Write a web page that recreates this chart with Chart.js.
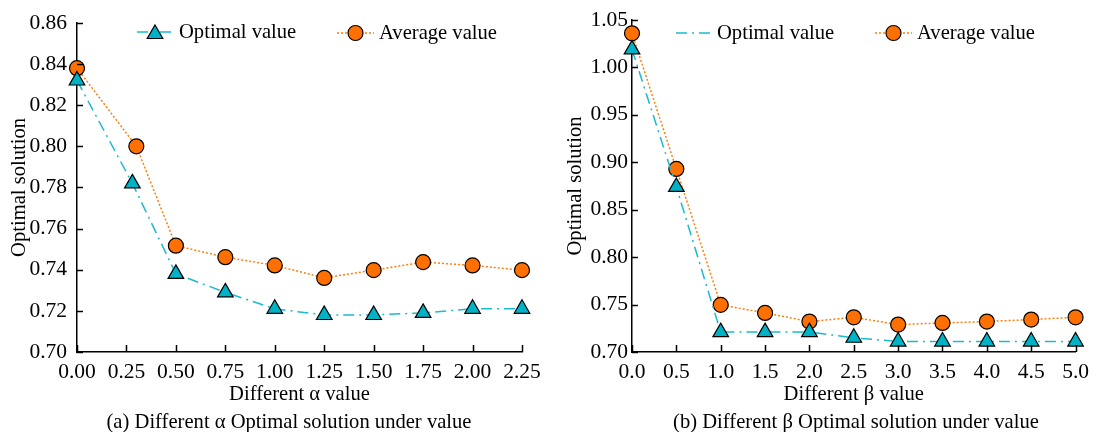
<!DOCTYPE html>
<html><head><meta charset="utf-8">
<script src="https://cdn.jsdelivr.net/npm/chart.js@4"></script>
<style>
html,body{margin:0;padding:0;background:#fff;}
.box{position:absolute;top:0;width:548px;height:432px;}
#b1{left:0}#b2{left:548px}
.cap{position:absolute;top:408px;height:26px;line-height:26px;text-align:center;white-space:nowrap;
     font-family:"Liberation Serif";font-size:20.6px;color:#000;}
#cap1{left:0;width:578px;}
#cap2{left:586px;width:540px;}
</style></head><body>
<div class="box" id="b1"><canvas id="c1" width="548" height="432"></canvas></div>
<div class="box" id="b2"><canvas id="c2" width="548" height="432"></canvas></div>
<div class="cap" id="cap1"></div>
<div class="cap" id="cap2"></div>
<script>
// ---- data ----
const alphaTicks = [0, 0.25, 0.5, 0.75, 1.0, 1.25, 1.5, 1.75, 2.0, 2.25];
const alphaXOpt = [0, 0.28, 0.5, 0.75, 1.0, 1.25, 1.5, 1.75, 2.0, 2.25];
const alphaXAvg = [0, 0.30, 0.5, 0.75, 1.0, 1.25, 1.5, 1.75, 2.0, 2.25];
const alphaOpt = [0.832, 0.782, 0.738, 0.729, 0.721, 0.718, 0.718, 0.719, 0.721, 0.721];
const alphaAvg = [0.838, 0.800, 0.7517, 0.7461, 0.7421, 0.736, 0.7398, 0.7437, 0.7421, 0.7398];
const betaX = [0, 0.5, 1.0, 1.5, 2.0, 2.5, 3.0, 3.5, 4.0, 4.5, 5.0];
const betaOpt = [1.019, 0.874, 0.721, 0.721, 0.721, 0.715, 0.711, 0.711, 0.711, 0.711, 0.711];
const betaAvg = [1.036, 0.893, 0.7497, 0.7412, 0.7321, 0.7366, 0.7289, 0.7306, 0.7321, 0.7342, 0.7366];
const yTicksA = [0.70, 0.72, 0.74, 0.76, 0.78, 0.80, 0.82, 0.84, 0.86];
const yTicksB = [0.70, 0.75, 0.80, 0.85, 0.90, 0.95, 1.00, 1.05];
const seriesNames = ['Optimal value', 'Average value'];
const yTitle = 'Optimal solution';
const xTitleA = 'Different α value';
const xTitleB = 'Different β value';
const captionA = '(a) Different α Optimal solution under value';
const captionB = '(b) Different β Optimal solution under value';

document.getElementById('cap1').textContent = captionA;
document.getElementById('cap2').textContent = captionB;

const FONT = 'Liberation Serif';
const TICK_SIZE = 21.5, TEXT_SIZE = 20.6;
const CYAN_LINE = '#1CBACD', CYAN_FILL = '#00B2C6', ORANGE_LINE = '#FF7F0E', ORANGE_FILL = '#FF7000';

function pts(xs, ys){ return xs.map((x,i)=>({x:x, y:ys[i]})); }

// inward tick marks drawn from the library's scales
const inwardTicks = {
  id:'inwardTicks',
  afterDatasetsDraw(chart){
    const ctx = chart.ctx, xs = chart.scales.x, ys = chart.scales.y;
    ctx.save();
    ctx.strokeStyle = '#000'; ctx.lineWidth = 1.5;
    xs.ticks.forEach(t => {
      const px = Math.round(xs.getPixelForValue(t.value)) + 0.5;
      ctx.beginPath(); ctx.moveTo(px, xs.top); ctx.lineTo(px, xs.top - 7); ctx.stroke();
    });
    ys.ticks.forEach(t => {
      const py = Math.round(ys.getPixelForValue(t.value)) + 0.5;
      ctx.beginPath(); ctx.moveTo(ys.right, py); ctx.lineTo(ys.right + 6, py); ctx.stroke();
    });
    ctx.restore();
  }
};

function legendPlugin(cfg){
  return {
    id:'inlegend',
    afterDraw(chart){
      const ctx = chart.ctx;
      ctx.save();
      ctx.font = TEXT_SIZE + 'px "' + FONT + '"';
      ctx.textBaseline = 'middle';
      cfg.forEach((it, idx) => {
        const ds = chart.data.datasets[idx];
        ctx.strokeStyle = ds.borderColor;
        ctx.lineWidth = ds.borderWidth;
        ctx.setLineDash(ds.borderDash);
        ctx.beginPath(); ctx.moveTo(it.x0, it.y); ctx.lineTo(it.x1, it.y); ctx.stroke();
        ctx.setLineDash([]);
        if (it.marker) {
          ctx.fillStyle = ds.pointBackgroundColor;
          ctx.strokeStyle = '#000';
          ctx.lineWidth = 1.2;
          Chart.helpers.drawPoint(ctx, {pointStyle: ds.pointStyle, radius: ds.pointRadius, borderWidth: 1.2, rotation: 0},
            (it.x0+it.x1)/2, it.y + (ds.pointStyle==='triangle' ? 2 : 0));
        }
        ctx.fillStyle = '#000';
        ctx.textAlign = 'left';
        ctx.fillText(seriesNames[idx], it.tx, it.y + 1);
      });
      ctx.restore();
    }
  };
}

function makeChart(id, opt){
  const ctx = document.getElementById(id).getContext('2d');
  return new Chart(ctx, {
    type:'line',
    data:{datasets:[
      {label:seriesNames[0], data:opt.dOpt, borderColor:CYAN_LINE, backgroundColor:CYAN_FILL,
       borderDash:[11,5,2,5], borderWidth:1.5, pointStyle:'triangle', pointRadius:9,
       pointBorderColor:'#000', pointBackgroundColor:CYAN_FILL, pointBorderWidth:1.2, clip:false, tension:0},
      {label:seriesNames[1], data:opt.dAvg, borderColor:ORANGE_LINE, backgroundColor:ORANGE_FILL,
       borderDash:[2,2], borderWidth:1.5, pointStyle:'circle', pointRadius:7.5,
       pointBorderColor:'#000', pointBackgroundColor:ORANGE_FILL, pointBorderWidth:1.2, clip:false, tension:0}
    ]},
    options:{
      responsive:false, animation:false, devicePixelRatio:1,
      layout:{padding:{left:0, top:20, right:opt.padRight, bottom:0}},
      plugins:{legend:{display:false}, tooltip:{enabled:false}},
      scales:{
        x:{type:'linear', min:opt.xMin, max:opt.xMax,
           afterFit(s){ s.height = 80; },
           afterBuildTicks(s){ s.ticks = opt.xTicks.map(v=>({value:v})); },
           border:{color:'#000', width:1.5},
           grid:{drawOnChartArea:false, drawTicks:false},
           ticks:{padding:7, color:'#000', font:{family:FONT, size:TICK_SIZE}, maxRotation:0, autoSkip:false,
                  callback:(v)=>Number(v).toFixed(opt.xDec)},
           title:{display:true, text:opt.xTitle, color:'#000', font:{family:FONT, size:TEXT_SIZE, lineHeight:1.27},
                  padding:{top:0, bottom:24}}
        },
        y:{type:'linear', min:opt.yMin, max:opt.yMax,
           afterFit(s){ s.width = opt.yWidth; },
           afterBuildTicks(s){ s.ticks = opt.yTicks.map(v=>({value:v})); },
           border:{color:'#000', width:1.5},
           grid:{drawOnChartArea:false, drawTicks:false},
           ticks:{padding:opt.yPad, color:'#000', font:{family:FONT, size:TICK_SIZE}, autoSkip:false,
                  callback:(v)=>Number(v).toFixed(2)},
           title:{display:true, text:yTitle, color:'#000', font:{family:FONT, size:TEXT_SIZE, lineHeight:1.2},
                  padding:{top:opt.yTitlePad, bottom:0}}
        }
      }
    },
    plugins:[inwardTicks, legendPlugin(opt.legend)]
  });
}

makeChart('c1', {
  dOpt: pts(alphaXOpt, alphaOpt), dAvg: pts(alphaXAvg, alphaAvg),
  xMin:0, xMax:2.25, xTicks: alphaTicks, xDec:2, xTitle:xTitleA,
  yMin:0.70, yMax:0.86, yTicks: yTicksA, yWidth:77, yPad:10, yTitlePad:7, padRight:26,
  legend:[{x0:137, x1:173, y:32, tx:179, marker:true},{x0:337, x1:374, y:33, tx:379, marker:true}]
});
makeChart('c2', {
  dOpt: pts(betaX, betaOpt), dAvg: pts(betaX, betaAvg),
  xMin:0, xMax:5, xTicks: betaX, xDec:1, xTitle:xTitleB,
  yMin:0.70, yMax:1.05, yTicks: yTicksB, yWidth:84, yPad:4, yTitlePad:15, padRight:18,
  legend:[{x0:128, x1:164, y:33, tx:169, marker:false},{x0:327, x1:364, y:33, tx:369, marker:true}]
});
</script>
</body></html>
